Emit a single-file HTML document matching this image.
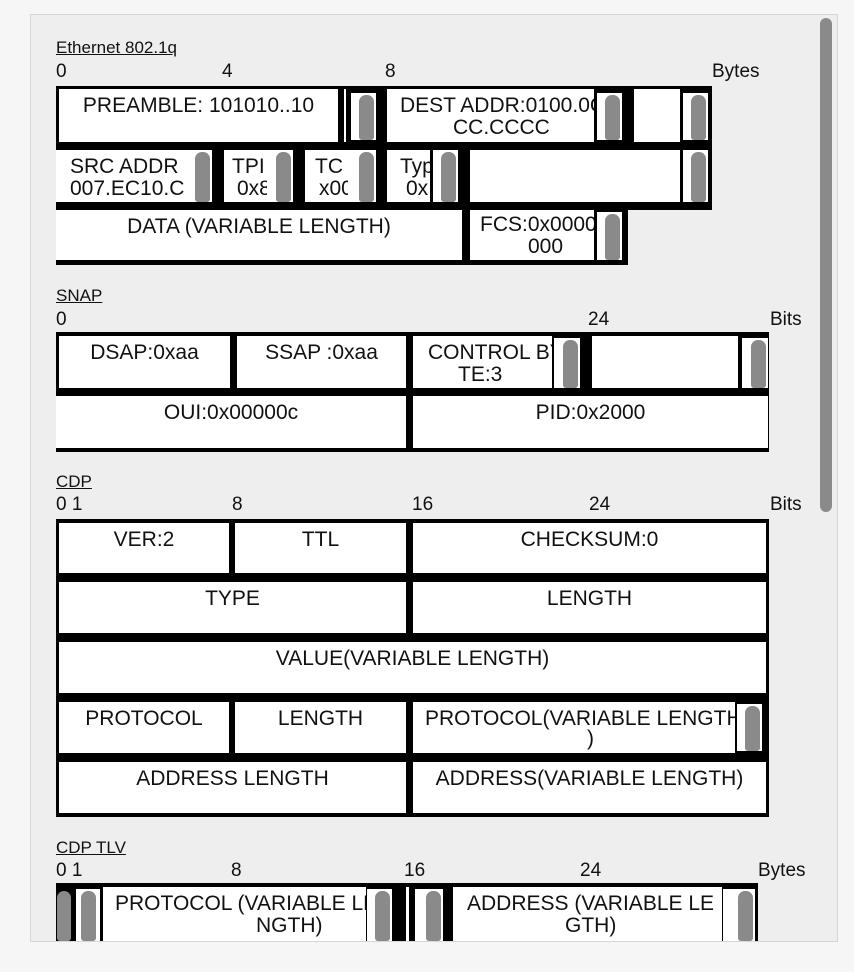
<!DOCTYPE html>
<html><head><meta charset="utf-8"><style>
*{margin:0;padding:0;box-sizing:border-box}
body{width:854px;height:972px;background:#f6f6f6;font-family:"Liberation Sans",Arial,sans-serif;color:#111;position:relative;overflow:hidden}
#panel{position:absolute;left:30px;top:14px;width:808px;height:928px;background:#eeeeee;border:1px solid #d6d6d6;overflow:hidden}
.a{position:absolute}
.t{position:absolute;font-size:17px;text-decoration:underline;white-space:nowrap}
.k{position:absolute;font-size:19px;white-space:nowrap}
.b{position:absolute;background:#000}
.c{position:absolute;background:#fff;overflow:hidden;font-size:21px;line-height:22px;white-space:nowrap}
.c.m{text-align:center;padding-top:6px}
.c .l{position:absolute;white-space:nowrap}
.n{position:absolute;background:#fff;overflow:hidden}
.n i{position:absolute;right:2px;top:2px;bottom:0;width:15px;background:#8a8a8a;border-radius:7px 7px 3px 3px}
#sb{position:absolute;left:820px;top:18px;width:12px;height:494px;background:#8a8a8a;border-radius:6px}
</style></head><body>
<div id="panel"></div>
<div class="a" style="left:0;top:0;width:854px;height:972px">

<!-- Ethernet -->
<div class="t" style="left:56px;top:38px">Ethernet 802.1q</div>
<div class="k" style="left:56px;top:61px">0</div>
<div class="k" style="left:222px;top:61px">4</div>
<div class="k" style="left:385px;top:61px">8</div>
<div class="k" style="left:712px;top:61px">Bytes</div>
<div class="b" style="left:56px;top:86px;width:656px;height:124px"></div>
<div class="b" style="left:56px;top:205px;width:572px;height:60px"></div>

<div class="c m" style="left:59px;top:89px;width:279px;height:53px">PREAMBLE: 101010..10</div>
<div class="a" style="left:344px;top:89px;width:2px;height:53px;background:#fff"></div>
<div class="n" style="left:351px;top:93px;width:25px;height:47px"><i></i></div>
<div class="c" style="left:387px;top:89px;width:207px;height:53px"><span class="l" style="left:13px;top:6px">DEST ADDR:0100.0C</span><span class="l" style="left:66px;top:28px">CC.CCCC</span></div>
<div class="n" style="left:597px;top:93px;width:25px;height:47px"><i></i></div>
<div class="c" style="left:634px;top:89px;width:46px;height:53px"></div>
<div class="n" style="left:683px;top:93px;width:25px;height:47px"><i></i></div>

<div class="c" style="left:56px;top:150px;width:129px;height:52px"><span class="l" style="left:14px;top:6px">SRC ADDR</span><span class="l" style="left:14px;top:28px">007.EC10.C</span></div>
<div class="n" style="left:185px;top:150px;width:27px;height:52px"><i></i></div>
<div class="c" style="left:224px;top:150px;width:43px;height:52px"><span class="l" style="left:8px;top:6px">TPI</span><span class="l" style="left:13px;top:28px">0x8</span></div>
<div class="n" style="left:267px;top:150px;width:26px;height:52px"><i></i></div>
<div class="c" style="left:305px;top:150px;width:43px;height:52px"><span class="l" style="left:10px;top:6px">TC</span><span class="l" style="left:14px;top:28px">x00</span></div>
<div class="n" style="left:348px;top:150px;width:28px;height:52px"><i></i></div>
<div class="c" style="left:387px;top:150px;width:43px;height:52px"><span class="l" style="left:13px;top:6px">Typ</span><span class="l" style="left:19px;top:28px">0x</span></div>
<div class="n" style="left:433px;top:150px;width:25px;height:52px"><i></i></div>
<div class="c" style="left:470px;top:150px;width:210px;height:52px"></div>
<div class="n" style="left:683px;top:150px;width:25px;height:52px"><i></i></div>

<div class="c m" style="left:56px;top:210px;width:406px;height:50px">DATA (VARIABLE LENGTH)</div>
<div class="c" style="left:470px;top:210px;width:124px;height:50px"><span class="l" style="left:10px;top:4px">FCS:0x0000</span><span class="l" style="left:58px;top:26px">000</span></div>
<div class="n" style="left:597px;top:212px;width:25px;height:48px"><i></i></div>

<!-- SNAP -->
<div class="t" style="left:56px;top:286px">SNAP</div>
<div class="k" style="left:56px;top:309px">0</div>
<div class="k" style="left:588px;top:309px">24</div>
<div class="k" style="left:770px;top:309px">Bits</div>
<div class="b" style="left:56px;top:332px;width:713px;height:120px"></div>
<div class="c m" style="left:59px;top:336px;width:171px;height:52px">DSAP:0xaa</div>
<div class="c m" style="left:237px;top:336px;width:169px;height:52px">SSAP :0xaa</div>
<div class="c" style="left:413px;top:336px;width:139px;height:52px"><span class="l" style="left:15px;top:6px">CONTROL BY</span><span class="l" style="left:45px;top:28px">TE:3</span></div>
<div class="n" style="left:554px;top:338px;width:26px;height:50px"><i></i></div>
<div class="c" style="left:592px;top:336px;width:146px;height:52px"></div>
<div class="n" style="left:742px;top:338px;width:26px;height:50px"><i></i></div>
<div class="c m" style="left:56px;top:396px;width:350px;height:52px">OUI:0x00000c</div>
<div class="c m" style="left:413px;top:396px;width:355px;height:52px">PID:0x2000</div>

<!-- CDP -->
<div class="t" style="left:56px;top:472px">CDP</div>
<div class="k" style="left:56px;top:494px">0 1</div>
<div class="k" style="left:232px;top:494px">8</div>
<div class="k" style="left:412px;top:494px">16</div>
<div class="k" style="left:589px;top:494px">24</div>
<div class="k" style="left:770px;top:494px">Bits</div>
<div class="b" style="left:56px;top:519px;width:713px;height:298px"></div>
<div class="c m" style="left:59px;top:523px;width:170px;height:50px">VER:2</div>
<div class="c m" style="left:235px;top:523px;width:171px;height:50px">TTL</div>
<div class="c m" style="left:413px;top:523px;width:353px;height:50px">CHECKSUM:0</div>
<div class="c m" style="left:59px;top:582px;width:347px;height:51px">TYPE</div>
<div class="c m" style="left:413px;top:582px;width:353px;height:51px">LENGTH</div>
<div class="c m" style="left:59px;top:642px;width:707px;height:51px">VALUE(VARIABLE LENGTH)</div>
<div class="c m" style="left:59px;top:702px;width:170px;height:51px">PROTOCOL</div>
<div class="c m" style="left:235px;top:702px;width:171px;height:51px">LENGTH</div>
<div class="c" style="left:413px;top:702px;width:322px;height:51px"><span class="l" style="left:12px;top:6px">PROTOCOL(VARIABLE LENGTH</span><span class="l" style="left:174px;top:26px">)</span></div>
<div class="n" style="left:737px;top:704px;width:25px;height:47px"><i></i></div>
<div class="c m" style="left:59px;top:762px;width:347px;height:51px">ADDRESS LENGTH</div>
<div class="c m" style="left:413px;top:762px;width:353px;height:51px">ADDRESS(VARIABLE LENGTH)</div>

<!-- CDP TLV -->
<div class="t" style="left:56px;top:838px">CDP TLV</div>
<div class="k" style="left:56px;top:860px">0 1</div>
<div class="k" style="left:231px;top:860px">8</div>
<div class="k" style="left:404px;top:860px">16</div>
<div class="k" style="left:580px;top:860px">24</div>
<div class="k" style="left:758px;top:860px">Bytes</div>
<div class="b" style="left:56px;top:883px;width:702px;height:58px"></div>
<div class="n" style="left:56px;top:889px;width:16px;height:52px;background:#000"><i style="right:1px;width:14px"></i></div>
<div class="n" style="left:76px;top:889px;width:24px;height:52px"><i style="right:4px"></i></div>
<div class="c" style="left:103px;top:887px;width:263px;height:54px"><span class="l" style="left:12px;top:6px">PROTOCOL (VARIABLE LE</span><span class="l" style="left:153px;top:28px">NGTH)</span></div>
<div class="n" style="left:367px;top:889px;width:25px;height:52px"><i></i></div>
<div class="a" style="left:406px;top:887px;width:3px;height:54px;background:#fff"></div>
<div class="n" style="left:415px;top:889px;width:28px;height:52px"><i></i></div>
<div class="c" style="left:453px;top:887px;width:269px;height:54px"><span class="l" style="left:14px;top:6px">ADDRESS (VARIABLE LE</span><span class="l" style="left:112px;top:28px">GTH)</span></div>
<div class="n" style="left:723px;top:889px;width:32px;height:52px"><i></i></div>

<div class="a" style="left:0;top:942px;width:854px;height:30px;background:#f6f6f6"></div>
<div class="a" style="left:30px;top:941px;width:808px;height:1px;background:#d6d6d6"></div>
<div id="sb"></div>
</div>
</body></html>
